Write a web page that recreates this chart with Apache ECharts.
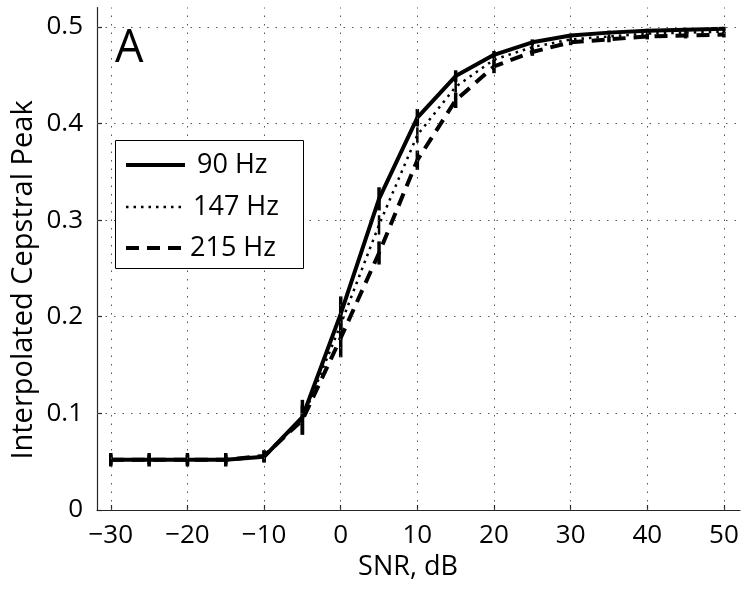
<!DOCTYPE html>
<html>
<head>
<meta charset="utf-8">
<script src="https://cdn.jsdelivr.net/npm/echarts@6/dist/echarts.min.js"></script>
<style>
html,body{margin:0;padding:0;background:#fff;}
#chart{width:749px;height:590px;}
</style>
</head>
<body>
<div id="chart"></div>
<script>
const snr = [-30,-25,-20,-15,-10,-5,0,5,10,15,20,25,30,35,40,45,50];
const hz90  = [0.052,0.052,0.052,0.052,0.055,0.096,0.203,0.322,0.406,0.449,0.471,0.484,0.491,0.494,0.496,0.497,0.498];
const hz147 = [0.052,0.052,0.052,0.052,0.055,0.094,0.192,0.295,0.388,0.438,0.466,0.479,0.487,0.490,0.493,0.494,0.495];
const hz215 = [0.052,0.052,0.052,0.052,0.056,0.093,0.178,0.266,0.362,0.424,0.459,0.474,0.484,0.487,0.490,0.491,0.492];
const err90  = [0.007,0.007,0.007,0.007,0.006,0.018,0.018,0.012,0.009,0.006,0.004,0.003,0.002,0.002,0.002,0.002,0.002];
const err147 = [0.005,0.005,0.005,0.005,0.005,0.012,0.014,0.010,0.008,0.006,0.004,0.003,0.002,0.002,0.002,0.002,0.002];
const err215 = [0.005,0.005,0.005,0.005,0.006,0.015,0.020,0.012,0.010,0.008,0.007,0.004,0.003,0.003,0.003,0.003,0.003];
const xTicks = [-30,-20,-10,0,10,20,30,40,50];
const yTicks = [0,0.1,0.2,0.3,0.4,0.5];
const seriesNames = ['90 Hz','147 Hz','215 Hz'];

const FONT = "'Open Sans', 'DejaVu Sans', sans-serif";
const chart = echarts.init(document.getElementById('chart'), null, {renderer:'canvas'});

function errSeries(vals, errs, w) {
  return {
    type:'custom',
    silent:true,
    z:4,
    data: snr.map((x,i)=>[x, vals[i], errs[i]]),
    encode:{x:0,y:1},
    renderItem:function(params, api){
      const x = api.value(0), y = api.value(1), e = api.value(2);
      const p1 = api.coord([x, y - e]);
      const p2 = api.coord([x, y + e]);
      return {type:'line', shape:{x1:p1[0], y1:p1[1], x2:p2[0], y2:p2[1]},
              style:{stroke:'#000', lineWidth:w, lineCap:'butt'}};
    }
  };
}

const gridStyle = {color:'#555', width:1, type:[1.5,7]};
const lineStyles = [
  {width:4, type:'solid'},
  {width:2.5, type:[2.5,5]},
  {width:4, type:[13,8]}
];

const legendX = 115, legendY = 140, legendW = 188, legendH = 128;
const legendRows = [165, 207, 248];
const legendTextX = [197, 193, 190];
const legendGraphics = [
  {type:'rect', z:20, shape:{x:legendX+0.5, y:legendY+0.5, width:legendW, height:legendH},
   style:{fill:'#fff', stroke:'#000', lineWidth:1}}
];
seriesNames.forEach((n,i)=>{
  legendGraphics.push({type:'line', z:21, shape:{x1:126, y1:legendRows[i], x2:185, y2:legendRows[i]},
    style:{stroke:'#000', lineWidth:lineStyles[i].width, lineDash: lineStyles[i].type === 'solid' ? null : lineStyles[i].type}});
  legendGraphics.push({type:'text', z:21, x:legendTextX[i], y:legendRows[i],
    style:{text:n, font:'27px ' + FONT, fill:'#000', textAlign:'left', textVerticalAlign:'middle'}});
});

const option = {
  animation:false,
  backgroundColor:'#fff',
  grid:{left:97, right:9, top:7.5, bottom:80},
  xAxis:{
    type:'value', min:-31.8, max:52.1,
    axisLine:{show:true, onZero:false, lineStyle:{color:'#262626', width:1.2}},
    axisTick:{show:true, inside:true, length:5, customValues:xTicks, lineStyle:{color:'#262626', width:1.2}},
    axisLabel:{customValues:xTicks, margin:13, fontSize:26, color:'#000', fontFamily:FONT,
      formatter:function(v){ return String(v).replace('-', '\u2212'); }},
    splitLine:{show:false}
  },
  yAxis:{
    type:'value', min:0, max:0.52,
    axisLine:{show:true, onZero:false, lineStyle:{color:'#262626', width:1.2}},
    axisTick:{show:true, inside:true, length:5, customValues:yTicks, lineStyle:{color:'#262626', width:1.2}},
    axisLabel:{customValues:yTicks, margin:14, fontSize:26, color:'#000', fontFamily:FONT,
      formatter:function(v){ return v === 0 ? '0' : v.toFixed(1); }},
    splitLine:{show:false}
  },
  series:[
    {name:'grid', type:'line', data:[], z:1, silent:true,
      markLine:{silent:true, symbol:['none','none'], label:{show:false}, lineStyle:gridStyle,
        emphasis:{disabled:true},
        data: xTicks.map(v=>({xAxis:v})).concat(yTicks.filter(v=>v>0).map(v=>({yAxis:v})))}},
    {name:seriesNames[0], type:'line', data:snr.map((x,i)=>[x,hz90[i]]), symbol:'none', z:3,
      lineStyle:Object.assign({color:'#000'}, lineStyles[0])},
    {name:seriesNames[1], type:'line', data:snr.map((x,i)=>[x,hz147[i]]), symbol:'none', z:3,
      lineStyle:Object.assign({color:'#000'}, lineStyles[1])},
    {name:seriesNames[2], type:'line', data:snr.map((x,i)=>[x,hz215[i]]), symbol:'none', z:3,
      lineStyle:Object.assign({color:'#000'}, lineStyles[2])},
    errSeries(hz90, err90, 3.5),
    errSeries(hz147, err147, 2.5),
    errSeries(hz215, err215, 3.5)
  ],
  graphic:[
    {type:'text', x:115, y:49, style:{text:'A', font:'45px ' + FONT, fill:'#000', textAlign:'left', textVerticalAlign:'middle'}},
    {type:'text', x:408, y:567, style:{text:'SNR, dB', font:'27px ' + FONT, fill:'#000', textAlign:'center', textVerticalAlign:'middle'}},
    {type:'text', x:24, y:280, rotation:Math.PI/2, style:{text:'Interpolated Cepstral Peak', font:'29px ' + FONT, fill:'#000', textAlign:'center', textVerticalAlign:'middle'}}
  ].concat(legendGraphics)
};
chart.setOption(option);
</script>
</body>
</html>
